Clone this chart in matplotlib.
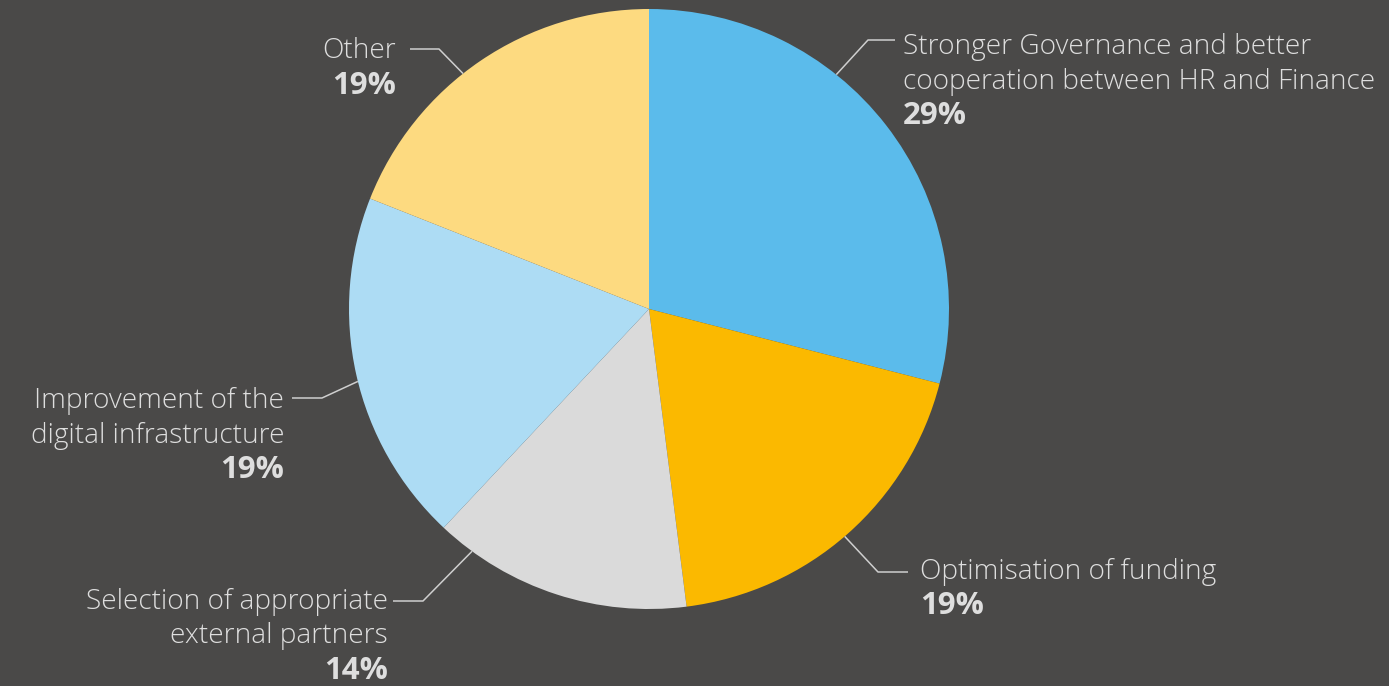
import numpy as np
import matplotlib.pyplot as plt

# Survey result: priority areas
categories = [
    "Stronger Governance and better\ncooperation between HR and Finance",
    "Optimisation of funding",
    "Selection of appropriate\nexternal partners",
    "Improvement of the\ndigital infrastructure",
    "Other",
]
shares = [29, 19, 14, 19, 19]
colors = ["#5BBBEB", "#FBB900", "#DADADA", "#ADDCF4", "#FDDA80"]

BG = "#4A4948"
TXT = "#DEDEDE"
LINE = "#CFCFCF"
W, H = 1389, 686
CX, CY, R = 649, 309, 300  # pie centre and radius in pixels


def px(x):
    return (x - CX) / R


def py(y):
    return (CY - y) / R


fig = plt.figure(figsize=(W / 100, H / 100), dpi=100, facecolor=BG)
ax = fig.add_axes([0, 0, 1, 1])
ax.set_facecolor(BG)
ax.axis("off")

wedges, _ = ax.pie(shares, colors=colors, startangle=90, counterclock=False,
                   radius=1.0, center=(0, 0), wedgeprops=dict(linewidth=0))
ax.set_xlim(px(0), px(W))
ax.set_ylim(py(H), py(0))
ax.set_aspect("auto")

# leader position within each wedge (0 = start, 1 = end), elbow, line end, text anchor
leader_frac = [0.37, 0.51, 0.86, 0.48, 0.44]
elbows = [(868, 40), (878, 572), (423, 601), (322, 398), (439, 49)]
ends = [(895, 40), (908, 572), (393, 601), (292, 398), (410, 49)]
text_x = [903, 920, 388, 284, 396]
text_y0 = [47, 572, 602, 401, 51]
align = ["left", "left", "right", "right", "right"]
line_gap = 34.5

family = ["Open Sans", "DejaVu Sans"]
fs = 20.2
fs_pct = 22.5

for w, f, el, en, tx, ty, ha, lab, val in zip(wedges, leader_frac, elbows, ends,
                                                text_x, text_y0, align, categories, shares):
    a1, a2 = w.theta1, w.theta2
    ang = np.deg2rad(a2 - f * (a2 - a1))
    sx, sy = np.cos(ang), np.sin(ang)
    ax.plot([sx, px(el[0]), px(en[0])], [sy, py(el[1]), py(en[1])],
            color=LINE, lw=1.1, solid_capstyle="butt", zorder=3)
    lines = lab.split("\n")
    for i, ln in enumerate(lines):
        ax.text(px(tx), py(ty + i * line_gap), ln, ha=ha, va="center",
                color=TXT, fontsize=fs, family=family, fontweight="light")
    ax.text(px(tx), py(ty + len(lines) * line_gap), f"{val}%", ha=ha, va="center",
            color=TXT, fontsize=fs_pct, family=family, fontweight="bold")

fig.savefig("out.png", dpi=100, facecolor=BG)
